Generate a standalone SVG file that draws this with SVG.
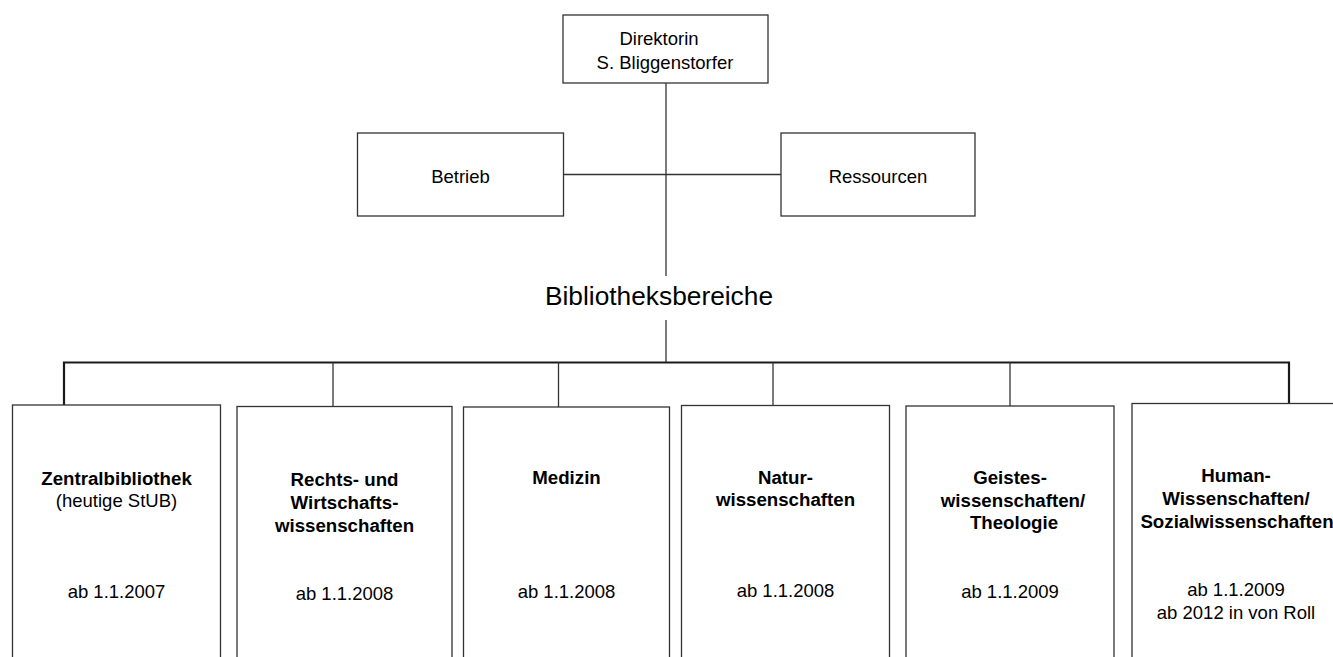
<svg xmlns="http://www.w3.org/2000/svg" width="1333" height="657" viewBox="0 0 1333 657">
<style>
.box{fill:#fff;stroke:#333;stroke-width:1.3}
.t{font-family:"Liberation Sans",Arial,sans-serif;font-size:18.5px;fill:#000;text-anchor:middle}
.b{font-weight:bold;font-size:18.7px}
.ln{stroke:#333;stroke-width:1.3;fill:none}
.bus{stroke:#1a1a1a;stroke-width:2.2;fill:none}
</style>
<rect width="1333" height="657" fill="#fff"/>
<g id="connectors">
<line class="ln" x1="666" y1="83" x2="666" y2="276"/>
<line class="ln" x1="666" y1="320" x2="666" y2="362"/>
<line class="ln" x1="563.5" y1="174.5" x2="781" y2="174.5"/>
<polyline class="bus" points="64,405 64,362.5 1289,362.5 1289,404"/>
<line class="ln" x1="333" y1="362" x2="333" y2="407"/>
<line class="ln" x1="558.5" y1="362" x2="558.5" y2="407"/>
<line class="ln" x1="773" y1="362" x2="773" y2="405"/>
<line class="ln" x1="1010" y1="362" x2="1010" y2="406"/>
</g>
<g id="direktorin">
<rect class="box" x="563" y="15" width="205" height="68"/>
<text class="t" x="659" y="45">Direktorin</text>
<text class="t" x="665" y="69">S. Bliggenstorfer</text>
</g>
<g id="betrieb">
<rect class="box" x="357.5" y="133" width="206" height="83"/>
<text class="t" x="460.5" y="183">Betrieb</text>
</g>
<g id="ressourcen">
<rect class="box" x="781" y="133" width="194" height="83"/>
<text class="t" x="878" y="183">Ressourcen</text>
</g>
<g id="bibliotheksbereiche">
<text class="t" x="659" y="305" style="font-size:26.3px">Bibliotheksbereiche</text>
</g>
<g id="zentral">
<rect class="box" x="12.5" y="405" width="208" height="270"/>
<text class="t b" x="116.5" y="485">Zentralbibliothek</text>
<text class="t" x="116.5" y="507">(heutige StUB)</text>
<text class="t" x="116.5" y="598">ab 1.1.2007</text>
</g>
<g id="rechts">
<rect class="box" x="237" y="406.5" width="215" height="270"/>
<text class="t b" x="344.5" y="486">Rechts- und</text>
<text class="t b" x="344.5" y="508.5">Wirtschafts-</text>
<text class="t b" x="344.5" y="531.5">wissenschaften</text>
<text class="t" x="344.5" y="600">ab 1.1.2008</text>
</g>
<g id="medizin">
<rect class="box" x="463.5" y="407" width="206" height="270"/>
<text class="t b" x="566.5" y="484">Medizin</text>
<text class="t" x="566.5" y="598">ab 1.1.2008</text>
</g>
<g id="natur">
<rect class="box" x="681.5" y="405.5" width="208" height="270"/>
<text class="t b" x="785.5" y="484">Natur-</text>
<text class="t b" x="785.5" y="506">wissenschaften</text>
<text class="t" x="785.5" y="597">ab 1.1.2008</text>
</g>
<g id="geistes">
<rect class="box" x="906" y="406" width="208" height="270"/>
<text class="t b" x="1010" y="484">Geistes-</text>
<text class="t b" x="1013" y="506.5">wissenschaften/</text>
<text class="t b" x="1014" y="529">Theologie</text>
<text class="t" x="1010" y="598">ab 1.1.2009</text>
</g>
<g id="human">
<rect class="box" x="1132" y="403.5" width="215" height="270"/>
<text class="t b" x="1236" y="481.5">Human-</text>
<text class="t b" x="1236" y="505">Wissenschaften/</text>
<text class="t b" x="1237" y="527.5">Sozialwissenschaften</text>
<text class="t" x="1236" y="596">ab 1.1.2009</text>
<text class="t" x="1236" y="618.5">ab 2012 in von Roll</text>
</g>
</svg>
